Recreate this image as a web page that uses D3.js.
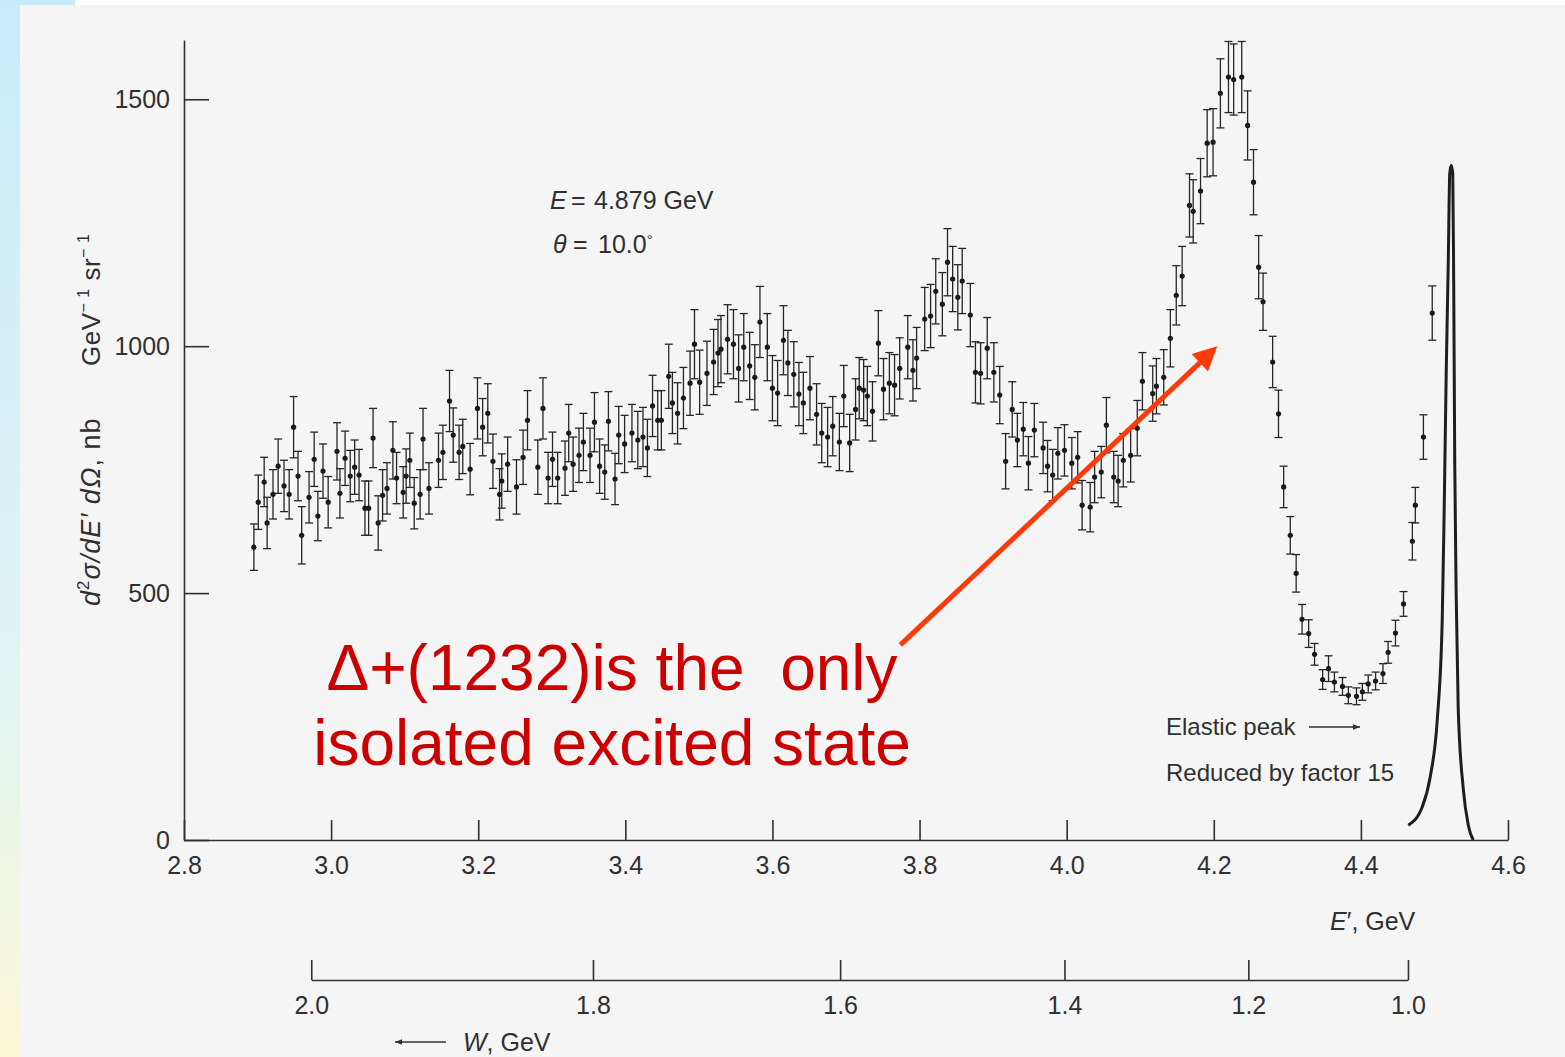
<!DOCTYPE html>
<html>
<head>
<meta charset="utf-8">
<script src="https://cdn.jsdelivr.net/npm/d3@7"></script>
<style>
html, body { margin: 0; padding: 0; background: #fff; }
svg { display: block; }
</style>
</head>
<body>
<svg id="chart" width="1565" height="1057"></svg>
<script>
// measured cross section, E' in GeV, d2sigma/dE'dOmega in nb/(GeV sr)
var ePrime = [
  2.895,2.901,2.909,2.913,2.921,2.928,2.936,2.943,2.949,2.955,
  2.960,2.970,2.977,2.982,2.989,2.996,3.008,3.012,3.019,3.026,
  3.032,3.038,3.046,3.051,3.057,3.064,3.070,3.076,3.084,3.089,
  3.098,3.102,3.107,3.113,3.121,3.125,3.133,3.146,3.152,3.161,
  3.166,3.174,3.179,3.189,3.199,3.206,3.213,3.220,3.229,3.232,
  3.240,3.252,3.261,3.267,3.281,3.288,3.295,3.301,3.308,3.318,
  3.323,3.329,3.337,3.343,3.352,3.358,3.365,3.372,3.377,3.386,
  3.391,
  3.399,3.409,3.417,3.424,3.430,3.437,3.444,3.449,3.459,3.464,
  3.471,3.479,3.488,3.494,3.501,3.511,3.520,3.526,3.530,3.539,
  3.547,3.554,3.561,3.569,3.576,3.583,3.593,3.600,3.607,3.615,
  3.621,3.629,3.636,3.642,3.651,3.660,3.667,3.675,3.682,3.691,
  3.697,3.705,3.713,3.718,3.724,3.729,3.736,3.744,3.751,3.759,
  3.766,3.773,3.784,3.791,3.796,3.807,3.815,3.822,3.831,3.838,
  3.845,3.852,3.858,3.869,3.876,3.883,3.892,3.901,3.909,
  3.917,3.926,3.933,3.941,3.948,3.956,3.968,3.974,3.981,3.988,
  3.997,4.007,4.015,4.021,4.032,4.038,4.047,4.054,4.064,4.070,
  4.077,4.087,4.096,
  4.103,4.117,4.122,4.132,4.141,4.149,4.157,4.167,4.172,4.182,
  4.191,4.199,4.209,4.220,4.227,4.238,4.246,4.254,4.261,4.267,
  4.280,4.288,4.295,4.304,4.312,4.320,4.329,4.337,4.348,4.356,
  4.364,4.375,4.383,4.394,4.402,4.410,4.420,4.430,4.437,4.447,
  4.458,4.470,4.474,4.485,4.497
];
var sigma = [
  593,684,725,642,700,757,717,700,836,737,
  617,694,771,656,747,684,787,702,773,737,
  755,739,672,672,814,642,698,712,789,733,
  704,737,769,682,700,812,712,769,785,889,
  820,785,797,751,874,836,864,767,700,727,
  761,715,775,850,755,874,733,771,733,753,
  824,761,779,806,779,846,757,745,848,731,
  820,
  802,824,810,816,794,879,850,850,939,885,
  864,895,925,1004,927,945,968,986,994,1014,
  1004,955,998,960,937,1049,998,915,905,1012,
  966,943,903,885,915,862,824,816,838,806,
  899,804,872,915,911,899,868,1006,913,925,
  921,955,998,951,976,1055,1061,1111,1085,1170,
  1136,1099,1132,1063,947,945,996,947,901,
  767,872,810,832,763,830,794,757,739,783,
  789,763,775,678,674,735,745,840,735,727,
  769,779,834,
  929,904,919,937,1016,1103,1142,1285,1273,1314,
  1411,1413,1512,1545,1540,1545,1447,1332,1160,1090,
  968,863,715,617,540,447,418,376,325,347,
  320,311,293,291,300,316,322,337,380,419,
  478,605,678,816,1067
];
var sigmaErr = [
  47,55,50,52,50,55,52,50,62,50,
  58,52,55,50,55,52,58,50,55,52,
  55,52,55,55,60,55,52,52,58,52,
  52,55,55,52,50,62,52,55,55,62,
  55,55,55,52,62,58,60,55,52,55,
  55,55,55,60,55,62,52,55,52,55,
  58,55,55,58,55,60,55,55,60,52,
  58,
  58,58,58,60,58,62,60,60,65,62,
  62,62,65,70,65,65,66,68,68,70,
  70,68,68,68,66,72,68,66,66,70,
  66,66,64,62,64,62,60,60,60,58,
  62,58,62,62,62,60,60,66,62,62,
  62,62,64,62,62,64,64,66,64,68,
  66,66,66,64,62,62,62,60,58,
  56,56,54,54,54,54,52,52,52,52,
  52,52,52,50,50,52,52,56,52,52,
  54,54,56,
  58,56,56,56,58,60,60,64,64,66,
  68,68,70,72,72,72,70,66,64,58,
  52,48,42,38,38,30,28,22,20,26,
  20,18,17,17,17,18,18,20,22,26,
  25,38,36,45,55
];

// elastic peak curve (reduced by factor 15)
var elasticE = [4.4644,4.4834,4.4943,4.5038,4.5106,4.5133,4.5160,4.5188,4.5208,4.5228,
                4.5249,4.5262,4.5276,4.5296,4.5323,4.5391,4.5460,4.5527];
var elasticV = [30,67,128,243,447,674,945,1170,1350,1366,
                1350,1126,764,494,267,105,30,0];

// axis ticks
var eTicks = [2.8,3.0,3.2,3.4,3.6,3.8,4.0,4.2,4.4,4.6];
var sigmaTicks = [0,500,1000,1500];
var wTickE = [2.973,3.356,3.692,3.997,4.247,4.464];
var wLabels = ["2.0","1.8","1.6","1.4","1.2","1.0"];

var W = 1565, H = 1057;
var ink = "#303030", font = "'Liberation Sans', Arial, sans-serif";
var svg = d3.select("#chart");
var defs = svg.append("defs");

// slide background + scanned page
var grad = defs.append("linearGradient").attr("id", "slide")
  .attr("x1", 0).attr("y1", 0).attr("x2", 0).attr("y2", 1);
grad.append("stop").attr("offset", "0%").attr("stop-color", "#c8ebfa");
grad.append("stop").attr("offset", "65%").attr("stop-color", "#e2f4f2");
grad.append("stop").attr("offset", "100%").attr("stop-color", "#fbf7d6");
svg.append("rect").attr("width", W).attr("height", H).attr("fill", "url(#slide)");
svg.append("rect").attr("x", 75).attr("y", 0).attr("width", W - 75).attr("height", 5)
  .attr("fill", "#fdfeff");
svg.append("rect").attr("x", 20).attr("y", 5).attr("width", W - 20).attr("height", H - 5)
  .attr("fill", "#f5f5f5");

var x = d3.scaleLinear().domain([2.8, 4.6]).range([184, 1508]);
var y = d3.scaleLinear().domain([0, 1620]).range([840, 40]);

function styleAxis(g) {
  g.attr("font-family", null).attr("font-size", null);
  g.selectAll("path, line").attr("stroke", ink).attr("stroke-width", 1.6);
  g.selectAll("text").attr("fill", ink).style("font-family", font).style("font-size", "25px");
}

svg.append("g")
  .attr("transform", "translate(" + x(2.8) + ",0)")
  .call(d3.axisLeft(y).tickValues(sigmaTicks).tickFormat(d3.format("d"))
    .tickSize(-25).tickSizeOuter(0).tickPadding(14))
  .call(styleAxis);

svg.append("g")
  .attr("transform", "translate(0," + y(0) + ")")
  .call(d3.axisBottom(x).tickValues(eTicks).tickFormat(d3.format(".1f"))
    .tickSize(-20).tickSizeOuter(0).tickPadding(16))
  .call(styleAxis);

// W axis below
var wx = d3.scaleLinear().domain([wTickE[0], wTickE[wTickE.length - 1]])
  .range([x(wTickE[0]), x(wTickE[wTickE.length - 1])]);
svg.append("g")
  .attr("transform", "translate(0,980)")
  .call(d3.axisBottom(wx).tickValues(wTickE).tickFormat(function(d, i) { return wLabels[i]; })
    .tickSize(-20).tickSizeOuter(0).tickPadding(16))
  .call(styleAxis);

// data points with error bars
var pts = ePrime.map(function(e, i) { return {e: e, v: sigma[i], err: sigmaErr[i]}; });
var pg = svg.append("g").attr("stroke", "#262626").attr("stroke-width", 1.3);
var pt = pg.selectAll(".pt").data(pts).enter().append("g").attr("class", "pt");
pt.append("line")
  .attr("x1", function(d) { return x(d.e); }).attr("x2", function(d) { return x(d.e); })
  .attr("y1", function(d) { return y(d.v + d.err); }).attr("y2", function(d) { return y(d.v - d.err); });
pt.append("line")
  .attr("x1", function(d) { return x(d.e) - 4; }).attr("x2", function(d) { return x(d.e) + 4; })
  .attr("y1", function(d) { return y(d.v + d.err); }).attr("y2", function(d) { return y(d.v + d.err); });
pt.append("line")
  .attr("x1", function(d) { return x(d.e) - 4; }).attr("x2", function(d) { return x(d.e) + 4; })
  .attr("y1", function(d) { return y(d.v - d.err); }).attr("y2", function(d) { return y(d.v - d.err); });
pt.append("circle")
  .attr("cx", function(d) { return x(d.e); }).attr("cy", function(d) { return y(d.v); })
  .attr("r", 2.6).attr("fill", "#1a1a1a").attr("stroke", "none");

// elastic peak
var elastic = elasticE.map(function(e, i) { return [e, elasticV[i]]; });
svg.append("path")
  .datum(elastic)
  .attr("fill", "none").attr("stroke", "#1e1e1e").attr("stroke-width", 3)
  .attr("d", d3.line().x(function(d) { return x(d[0]); }).y(function(d) { return y(d[1]); })
    .curve(d3.curveMonotoneX));

// texts from the original figure
function txt(xp, yp, size) {
  return svg.append("text").attr("x", xp).attr("y", yp)
    .attr("fill", ink).style("font-family", font).style("font-size", size + "px");
}
var t1 = txt(550, 209, 25);
t1.append("tspan").style("font-style", "italic").text("E");
t1.append("tspan").attr("x", 571).text("=");
t1.append("tspan").attr("x", 594).text("4.879 GeV");
var t2 = txt(553, 253, 25);
t2.append("tspan").style("font-style", "italic").text("\u03B8");
t2.append("tspan").attr("x", 573).text("=");
t2.append("tspan").attr("x", 598).text("10.0");
t2.append("tspan").attr("dy", -8).style("font-size", "15px").text("\u00B0");

txt(1166, 735, 24).text("Elastic peak");
txt(1166, 781, 24).text("Reduced by factor 15");
defs.append("marker").attr("id", "smallHead").attr("viewBox", "0 0 10 10")
  .attr("refX", 10).attr("refY", 5).attr("markerUnits", "userSpaceOnUse")
  .attr("markerWidth", 14).attr("markerHeight", 7).attr("orient", "auto-start-reverse")
  .append("path").attr("d", "M0,1L10,5L0,9z").attr("fill", ink);
svg.append("line").attr("x1", 1309).attr("x2", 1360).attr("y1", 727).attr("y2", 727)
  .attr("stroke", ink).attr("stroke-width", 1.5).attr("marker-end", "url(#smallHead)");

var xl = txt(1330, 930, 25);
xl.append("tspan").style("font-style", "italic").text("E");
xl.append("tspan").text("\u2032, GeV");

svg.append("line").attr("x1", 446).attr("x2", 395).attr("y1", 1042).attr("y2", 1042)
  .attr("stroke", ink).attr("stroke-width", 1.5).attr("marker-end", "url(#smallHead)");
var wl = txt(463, 1051, 25);
wl.append("tspan").style("font-style", "italic").text("W");
wl.append("tspan").text(", GeV");

// rotated y label
var yl1 = svg.append("text").attr("transform", "translate(100,606) rotate(-90)")
  .attr("fill", ink).style("font-family", font).style("font-size", "27px")
  .style("letter-spacing", "1px");
yl1.append("tspan").style("font-style", "italic").text("d");
yl1.append("tspan").attr("dy", -11).style("font-size", "17px").text("2");
yl1.append("tspan").attr("dy", 11).style("font-style", "italic").text("\u03C3/dE\u2032 d\u03A9");
yl1.append("tspan").text(", nb");
var yl2 = svg.append("text").attr("transform", "translate(100,366) rotate(-90)")
  .attr("fill", ink).style("font-family", font).style("font-size", "26px")
  .style("letter-spacing", "0.5px").style("white-space", "pre");
yl2.append("tspan").text("GeV");
yl2.append("tspan").attr("dy", -11).style("font-size", "16px").text("\u2212 1");
yl2.append("tspan").attr("dy", 11).text(" sr");
yl2.append("tspan").attr("dy", -11).style("font-size", "16px").text("\u2212 1");

// red annotation
defs.append("marker").attr("id", "redHead").attr("viewBox", "0 0 10 10")
  .attr("refX", 8).attr("refY", 5).attr("markerUnits", "userSpaceOnUse")
  .attr("markerWidth", 28).attr("markerHeight", 24).attr("orient", "auto")
  .append("path").attr("d", "M0,0L10,5L0,10z").attr("fill", "#ff3a0a");
svg.append("line")
  .attr("x1", x(3.774)).attr("y1", y(395)).attr("x2", x(4.200)).attr("y2", y(993))
  .attr("stroke", "#ff3a0a").attr("stroke-width", 5).attr("marker-end", "url(#redHead)");

var red = svg.append("text").attr("x", 612).attr("y", 690).attr("text-anchor", "middle")
  .attr("fill", "#cc0000").style("font-family", font).style("font-size", "64px")
  .style("white-space", "pre");
red.append("tspan").attr("x", 612).attr("y", 690).text("\u0394+(1232)is the  only");
red.append("tspan").attr("x", 612).attr("y", 765).text("isolated excited state");
</script>
</body>
</html>
